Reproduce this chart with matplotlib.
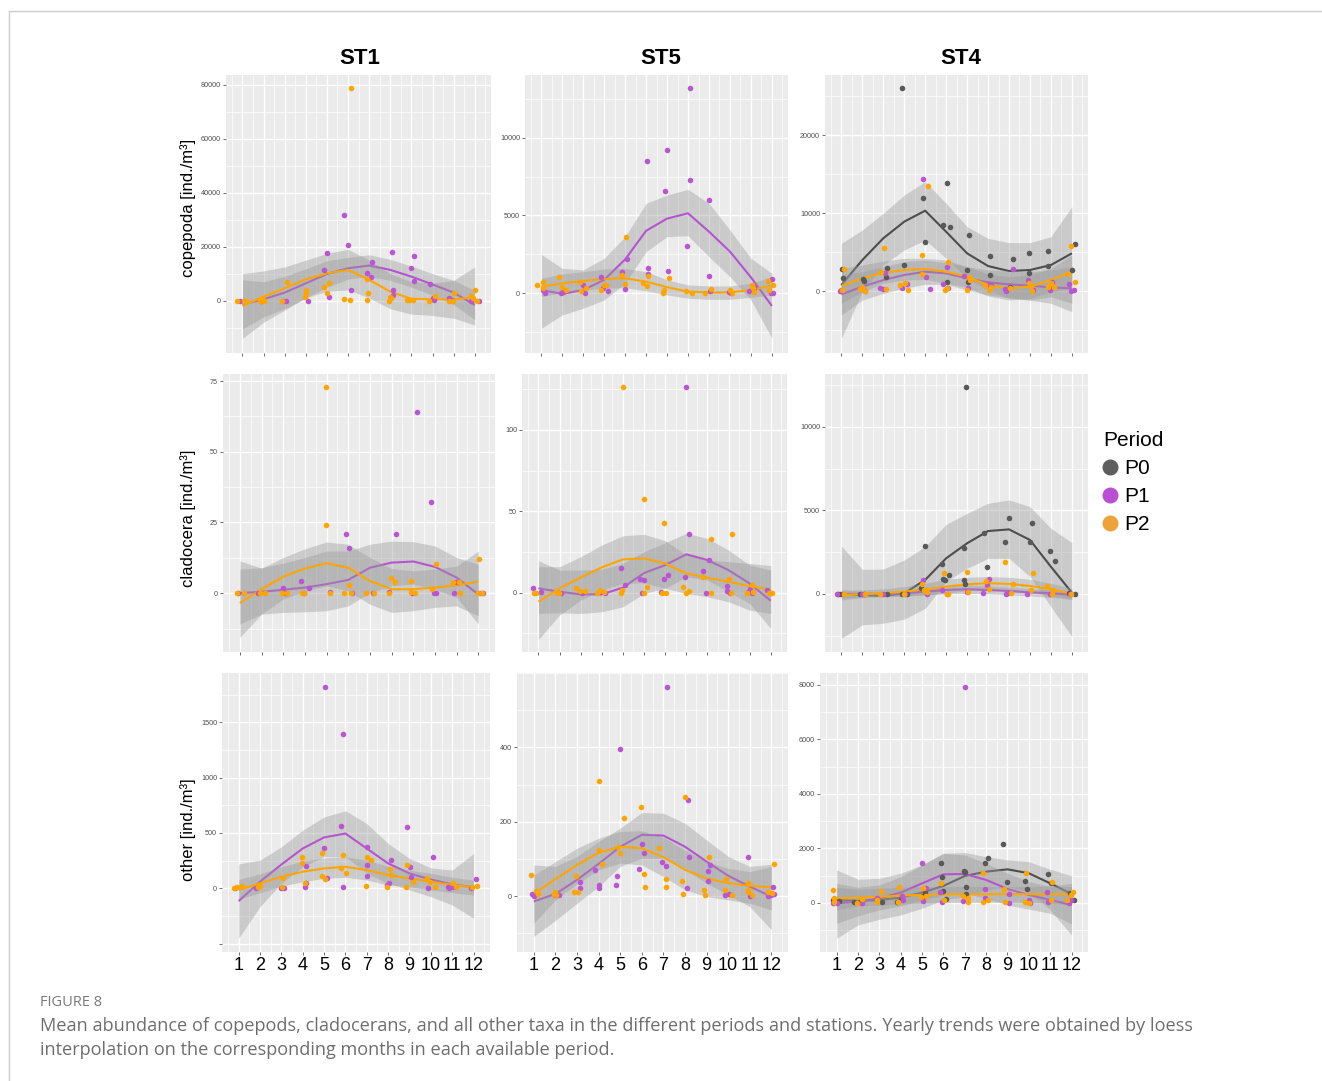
import numpy as np
import matplotlib.pyplot as plt
from matplotlib.lines import Line2D
from matplotlib.ticker import AutoMinorLocator

plt.rcParams['font.family'] = ['Liberation Sans', 'DejaVu Sans']

W, H = 1322, 1081

months = list(range(1, 13))
month_labels = [str(m) for m in months]
stations = ["ST1", "ST5", "ST4"]
taxa = ["copepoda", "cladocera", "other"]
periods = ["P0", "P1", "P2"]
period_colors = {"P0": "#595959", "P1": "#BA55D3", "P2": "#FFA500"}
line_colors = {"P0": "#4D4D4D", "P1": "#B455CF", "P2": "#FFA500"}
legend_colors = ["#5E5E5E", "#BB4FD3", "#EEA33A"]
caption_title = "FIGURE 8"
caption_lines = [
    "Mean abundance of copepods, cladocerans, and all other taxa in the different periods and stations. "
    "Yearly trends were obtained by loess",
    "interpolation on the corresponding months in each available period.",
]

# ---------------- ST1 copepoda ----------------
st1_cop_p1_x = [0.87, 1.9, 2.94, 3.07, 4.08, 4.85, 5.0, 5.12, 5.83, 5.99, 6.15, 6.88, 7.07, 7.15, 8.06, 8.14,
                8.15, 8.98, 9.14, 9.14, 9.89, 10.01, 10.05, 10.78, 10.9, 11.84, 12.19]
st1_cop_p1_y = [0, 0, 0, 0, 0, 11400, 17500, 1500, 31700, 20600, 4000, 10100, 8600, 14200, 18200, 4000,
                2100, 12200, 16700, 7400, 6200, 900, 200, 900, 200, 0, 0]
st1_cop_p1_fit = [-1400, 500, 3000, 6400, 9900, 12000, 13000, 11400, 8900, 6000, 3000, -1600]
st1_cop_p1_lo = [-10500, -6000, -3000, 1000, 5000, 8000, 9000, 7500, 5000, 2000, -1500, -7000]
st1_cop_p1_hi = [7700, 7000, 9000, 11800, 14800, 16000, 17000, 15300, 12800, 10000, 7500, 3800]
st1_cop_p2_x = [0.76, 1.06, 1.16, 1.83, 1.99, 2.03, 2.86, 3.13, 3.97, 4.02, 4.02, 4.88, 5.0, 5.12, 5.8,
                6.09, 6.15, 6.88, 6.95, 6.91, 7.95, 8.0, 8.03, 8.8, 8.9, 9.06, 9.85, 10.1, 10.8, 11.0,
                10.96, 11.8, 11.9, 12.03, 12.13]
st1_cop_p2_y = [0, 0, 0, 0, 500, 0, 0, 6800, 1500, 3000, 4000, 5000, 3000, 6500, 700, 300, 78900, 8200,
                2700, 300, 0, 1500, 800, 300, 300, 300, 0, 1700, 0, 2700, 0, 1700, 800, 4000, 0]
st1_cop_p2_fit = [-2000, 1500, 4600, 7900, 10100, 11400, 7700, 3300, 700, 500, 500, 1200]
st1_cop_p2_lo = [-14000, -8000, -3500, 1000, 3500, 4000, 1000, -3000, -5000, -5500, -6500, -9000]
st1_cop_p2_hi = [10000, 11000, 12500, 15000, 17500, 19000, 15000, 10000, 7000, 6500, 7500, 12500]

# ---------------- ST5 copepoda ----------------
st5_cop_p1_x = [1.08, 1.19, 1.92, 2.03, 2.98, 3.06, 3.86, 3.94, 4.17, 4.83, 4.97, 5.08, 6.05, 6.08, 6.1,
                6.89, 7.0, 7.05, 7.94, 8.11, 8.11, 9.02, 9.02, 9.05, 9.97, 10.05, 10.9, 11.13, 11.16,
                11.95, 12.0, 12.06]
st5_cop_p1_y = [210, 40, 40, 100, 535, 40, 1070, 320, 170, 1390, 260, 2200, 8520, 1650, 1240, 6570, 9180,
                1460, 3060, 13200, 7280, 5970, 1110, 170, 100, 40, 150, 320, 470, 40, 900, 40]
st5_cop_p1_fit = [210, -40, 210, 860, 2180, 4020, 4800, 5140, 3960, 2680, 1030, -810]
st5_cop_p1_lo = [-2250, -1390, -960, -430, 640, 2680, 3640, 3700, 2350, 1070, -430, -2890]
st5_cop_p1_hi = [2500, 1600, 1500, 2250, 3640, 5780, 6310, 6680, 5780, 4070, 2250, 1280]
st5_cop_p2_x = [0.8, 1.1, 1.08, 1.83, 2.0, 2.16, 2.83, 2.9, 3.14, 3.86, 3.98, 4.1, 4.86, 4.97, 5.05, 5.87,
                6.06, 6.1, 6.8, 6.84, 7.11, 7.9, 8.19, 8.83, 9.1, 10.0, 10.1, 11.05, 11.08, 11.13, 11.8,
                11.84, 12.06]
st5_cop_p2_y = [535, 750, 320, 1070, 430, 210, 750, 170, 320, 210, 535, 535, 1180, 580, 3640, 640, 470,
                1130, 40, 210, 1000, 170, 40, 40, 280, 210, 40, 535, 320, 100, 790, 210, 535]
st5_cop_p2_fit = [430, 640, 790, 920, 960, 750, 390, 110, 40, 60, 210, 490]
st5_cop_p2_lo = [-210, 40, 210, 320, 360, 150, -110, -320, -390, -390, -260, -110]
st5_cop_p2_hi = [960, 1240, 1390, 1560, 1600, 1390, 860, 535, 470, 470, 640, 1070]

# ---------------- ST4 copepoda ----------------
st4_cop_p0_x = [1.03, 1.08, 2.03, 2.06, 3.17, 3.14, 3.9, 3.97, 4.89, 5.0, 5.87, 6.03, 6.19, 6.03, 6.98,
                7.08, 7.03, 8.1, 8.1, 9.05, 9.17, 9.97, 9.97, 10.84, 10.87, 12.03, 12.17]
st4_cop_p0_y = [2830, 1710, 1500, 1280, 3000, 1760, 26100, 3340, 11900, 6300, 8480, 13830, 8270, 1160,
                2700, 7200, 1200, 4500, 2060, 560, 4070, 4930, 2270, 5140, 3210, 2700, 6040]
st4_cop_p0_fit = [770, 3980, 6770, 8910, 10320, 7620, 4840, 3210, 2570, 2700, 3340, 4840]
st4_cop_p0_lo = [-6080, -90, 3340, 5270, 6550, 4200, 1630, 130, -940, -1160, -730, -1580]
st4_cop_p0_hi = [6120, 7840, 9980, 12330, 14050, 11260, 8270, 6770, 6210, 6210, 6980, 10840]
st4_cop_p1_x = [0.95, 1.0, 1.98, 2.11, 2.86, 2.98, 3.06, 3.89, 4.13, 4.89, 5.05, 5.21, 5.84, 6.06, 6.11,
                6.83, 7.06, 8.02, 8.14, 8.81, 8.86, 9.17, 9.89, 10.16, 10.95, 11.03, 11.87, 11.98, 12.1]
st4_cop_p1_y = [40, 130, 340, 0, 430, 260, 2270, 340, 860, 14400, 1840, 260, 860, 3130, 340, 1930, 340,
                860, 770, 260, 0, 2830, 1410, 130, 130, 1110, 860, 0, 130]
st4_cop_p1_fit = [-430, 560, 1410, 2060, 2480, 2270, 1630, 1110, 860, 690, 470, 340]
st4_cop_p1_lo = [-3080, -1160, -300, 340, 860, 860, 130, -510, -860, -1160, -1580, -2660]
st4_cop_p1_hi = [2060, 2480, 3130, 3770, 3980, 3640, 3130, 2700, 2570, 2480, 2700, 3130]
st4_cop_p2_x = [1.03, 1.11, 1.9, 2.0, 2.14, 2.89, 3.05, 3.14, 3.81, 4.02, 4.17, 4.84, 4.84, 5.13, 5.95,
                6.03, 6.08, 6.98, 7.11, 7.14, 7.86, 8.06, 8.13, 9.05, 9.97, 10.03, 10.1, 10.84, 11.0,
                11.16, 11.83, 11.95, 12.14]
st4_cop_p2_y = [130, 2780, 210, 470, 40, 2400, 5480, 260, 730, 990, 130, 4630, 2180, 13530, 130, 340,
                3680, 130, 1840, 1410, 770, 130, 470, 340, 1070, 640, 0, 470, 990, 560, 2180, 5780, 1110]
st4_cop_p2_fit = [640, 1630, 2360, 2700, 2830, 2480, 1840, 770, 340, 560, 1410, 2480]
st4_cop_p2_lo = [-1580, -90, 990, 1410, 1500, 990, 470, -640, -1160, -940, -90, 340]
st4_cop_p2_hi = [2910, 3340, 3850, 4200, 4200, 3980, 3130, 2180, 1840, 2060, 2910, 4630]

# ---------------- ST1 cladocera ----------------
st1_cla_p1_x = [0.92, 1.85, 2.98, 3.09, 3.84, 4.18, 3.95, 5.16, 5.91, 6.05, 6.16, 7.12, 7.87, 8.18, 8.95,
                9.17, 9.84, 9.95, 10.04, 10.89, 10.97, 11.08, 12.08, 12.2]
st1_cla_p1_y = [0, 0, 2, 0, 4.3, 2, 0, 0.5, 21.1, 16.1, 0, 0, 0.5, 21.1, 0, 64.2, 32.3, 0, 0, 0, 3.8, 4,
                0, 0]
st1_cla_p1_fit = [0, 0.5, 1.2, 2.0, 3.2, 4.7, 9.0, 10.8, 11.2, 9.3, 5.5, -0.4]
st1_cla_p1_lo = [-10.9, -7.4, -6.8, -6.6, -6.2, -4.5, 0.2, 2.6, 3.2, 1.4, -1.5, -10.9]
st1_cla_p1_hi = [8.5, 9.0, 10.6, 12.6, 14.9, 14.9, 17.3, 18.4, 18.2, 16.7, 12.6, 10.2]
st1_cla_p2_x = [0.85, 1.2, 1.93, 2.16, 2.94, 3.19, 3.87, 3.95, 4.95, 4.95, 5.14, 5.8, 6.04, 6.12, 6.84,
                7.17, 7.87, 7.98, 8.16, 8.88, 8.9, 9.1, 9.87, 10.07, 10.85, 11.12, 11.15, 12.05, 12.0, 12.16]
st1_cla_p2_y = [0, 0, 0, 0, 0, 0, 0, 0, 72.8, 24, 0, 0, 2.8, 0, 0.2, 0.2, 0, 5.2, 3.8, 4.2, 0.5, 0.2, 1.4,
                10.2, 3.8, 3.8, 0.2, 12.2, 0, 0]
st1_cla_p2_fit = [-3.5, 1.4, 5.9, 8.7, 10.6, 9.0, 4.3, 1.4, 1.4, 2.0, 2.8, 4.1]
st1_cla_p2_lo = [-15.6, -7.4, -2.1, 0.8, 2.6, 0.8, -3.9, -6.8, -6.2, -5.0, -4.5, -8.0]
st1_cla_p2_hi = [11.4, 8.8, 12.6, 15.7, 18.1, 17.3, 12.6, 8.7, 7.9, 8.5, 9.6, 14.9]

# ---------------- ST5 cladocera ----------------
st5_cla_p1_x = [0.76, 1.11, 2.06, 3.05, 4.15, 4.9, 5.12, 5.81, 5.9, 5.98, 6.79, 6.95, 7.12, 7.96, 7.99,
                8.15, 8.78, 8.93, 9.09, 9.91, 9.94, 10.07, 10.94, 11.02, 11.1, 11.8, 11.96]
st5_cla_p1_y = [2.9, 0.6, 0, 0, 0, 15, 4.7, 8.4, 0, 7.8, 0.6, 8.2, 11.1, 9.8, 126.2, 35.9, 13.1, 0, 20.1,
                1.2, 4.1, 0, 0.6, 2, 0, 1.6, 0]
st5_cla_p1_fit = [2.7, 0.6, -1, -1, 3.2, 12.1, 17.0, 23.6, 20.1, 13.9, 5.7, -4.9]
st5_cla_p1_lo = [-12.7, -12.3, -12.7, -11.7, -8.6, -0.4, 2.7, 9.8, 7.8, 0.6, -6.6, -21.9]
st5_cla_p1_hi = [19.7, 13.9, 13.9, 14.5, 18, 25.2, 30.7, 36.5, 33.4, 26.2, 17, 13.9]
st5_cla_p2_x = [0.8, 0.9, 1.87, 1.95, 2.78, 2.97, 3.18, 3.79, 3.92, 4.1, 4.9, 4.96, 4.99, 6.0, 6.02, 6.13,
                6.85, 6.96, 7.04, 7.83, 7.99, 8.15, 8.8, 9.15, 9.15, 10.04, 10.1, 10.15, 10.89, 11.1, 11.17,
                11.93, 12.04]
st5_cla_p2_y = [0, 0, 0, 0, 2.7, 1, 1, 0, 1.6, 0.6, 0, 1.6, 126.2, 57.4, 0, 3.7, 0, 43, 0, 3.7, 0, 1, 9.8,
                33, 0, 8.2, 0, 35.9, 0, 4.7, 0.6, 0, 0]
st5_cla_p2_fit = [-5.5, 2.7, 9.4, 15.6, 20.5, 21.1, 18.0, 11.9, 9.2, 6.8, 4.1, 2.0]
st5_cla_p2_lo = [-28.7, -13.7, -4.5, 1.6, 5.7, 6.1, 2.7, -0.4, -2.5, -5.5, -10.7, -12.7]
st5_cla_p2_hi = [16, 16, 22.1, 29.3, 35, 35.9, 32, 23.2, 20.1, 19.1, 18, 16.7]

# ---------------- ST4 cladocera ----------------
st4_cla_p0_x = [0.83, 0.92, 1.9, 2.1, 3.17, 3.89, 4.13, 4.81, 4.97, 5.79, 5.84, 5.95, 6.14, 6.87, 6.9,
                6.95, 6.87, 7.83, 7.97, 8.81, 9.0, 10.0, 10.08, 10.95, 11.19, 11.87, 12.17]
st4_cla_p0_y = [0, 0, 0, 0, 0, 0, 0, 340, 2870, 1790, 880, 840, 1140, 840, 600, 12350, 2770, 3670, 1630,
                3090, 4560, 3090, 4260, 2590, 1970, 80, 0]
st4_cla_p0_fit = [0, -60, -120, 40, 840, 2130, 3030, 3760, 3860, 3230, 1630, 80]
st4_cla_p0_lo = [-2650, -1850, -1750, -1510, -860, 740, 1530, 2130, 2130, 1040, -760, -2550]
st4_cla_p0_hi = [2870, 1470, 1490, 2030, 2830, 4160, 4820, 5420, 5620, 5220, 3920, 3070]
st4_cla_p1_x = [0.79, 1.98, 2.98, 4.05, 4.89, 5.08, 5.79, 6.03, 6.98, 7.78, 7.94, 8.05, 8.86, 8.97, 9.84,
                10.95, 11.9]
st4_cla_p1_y = [0, 0, 0, 0, 840, 0, 240, 0, 140, 80, 540, 880, 0, 80, 0, 0, 0]
st4_cla_p1_fit = [-20, 0, 0, 40, 140, 240, 280, 240, 180, 100, 40, -40]
st4_cla_p1_lo = [-240, -160, -160, -120, -60, 0, 40, 0, -60, -120, -200, -280]
st4_cla_p1_hi = [200, 140, 140, 200, 340, 480, 540, 480, 400, 300, 240, 180]
st4_cla_p2_x = [1.11, 2.14, 2.86, 3.97, 4.86, 4.95, 5.08, 5.9, 6.03, 6.11, 6.98, 7.06, 7.89, 8.05, 8.81,
                9.08, 9.17, 10.03, 10.13, 10.79, 11.03, 11.11, 11.98]
st4_cla_p2_y = [0, 0, 0, 0, 600, 240, 140, 1240, 0, 0, 1330, 140, 800, 280, 1930, 80, 580, 240, 1240, 480,
                0, 240, 0]
st4_cla_p2_fit = [-80, 0, 40, 140, 280, 440, 580, 640, 600, 480, 280, 0]
st4_cla_p2_lo = [-360, -220, -160, -120, -60, 40, 200, 240, 200, 80, -100, -360]
st4_cla_p2_hi = [240, 240, 300, 440, 640, 880, 1000, 1040, 1000, 880, 640, 340]

# ---------------- ST1 other ----------------
st1_oth_p1_x = [0.84, 1.83, 2.96, 3.11, 4.1, 4.16, 4.16, 4.99, 5.04, 5.12, 5.8, 5.88, 5.88, 6.99, 7.02,
                7.02, 8.04, 7.96, 8.12, 8.87, 9.01, 9.06, 9.87, 10.08, 10.78, 10.86, 11.02, 11.88, 12.11]
st1_oth_p1_y = [0, 0, 0, 0, 10, 45, 205, 365, 1820, 90, 565, 1390, 10, 210, 375, 115, 45, 30, 255, 550,
                195, 105, 5, 280, 15, 0, 10, 0, 80]
st1_oth_p1_fit = [-115, 60, 215, 360, 460, 495, 360, 225, 135, 80, 35, 10]
st1_oth_p1_lo = [-450, -165, 45, 195, 285, 285, 135, 45, -15, -75, -150, -270]
st1_oth_p1_hi = [220, 255, 375, 525, 645, 700, 585, 405, 270, 185, 165, 315]
st1_oth_p2_x = [0.8, 0.92, 1.16, 1.9, 1.99, 3.03, 3.08, 3.97, 3.97, 4.1, 4.88, 4.91, 5.04, 5.8, 5.9, 6.04,
                6.96, 7.02, 7.18, 7.93, 8.09, 8.15, 8.82, 8.87, 9.18, 9.81, 9.97, 10.2, 11.02, 11.17,
                11.92, 12.16]
st1_oth_p2_y = [0, 10, 25, 10, 25, 10, 90, 280, 225, 45, 315, 115, 80, 185, 300, 135, 25, 285, 255, 10,
                175, 120, 10, 215, 60, 95, 55, 15, 45, 10, 15, 20]
st1_oth_p2_fit = [-15, 45, 105, 150, 180, 195, 165, 120, 90, 60, 30, 10]
st1_oth_p2_lo = [-100, -40, 20, 60, 90, 100, 75, 30, 15, -15, -40, -60]
st1_oth_p2_hi = [80, 130, 195, 245, 275, 285, 255, 200, 165, 135, 100, 75]

# ---------------- ST5 other ----------------
st5_oth_p1_x = [0.92, 1.0, 1.97, 2.15, 3.12, 3.15, 3.84, 4.04, 4.04, 4.8, 4.86, 4.99, 5.86, 6.03, 6.09,
                6.92, 7.1, 7.18, 8.09, 8.15, 8.18, 9.05, 9.05, 9.16, 9.87, 10.05, 10.9, 11.02, 11.83,
                11.97, 12.07, 12.12]
st5_oth_p1_y = [6, 1, 2, 2, 21, 37, 71, 21, 30, 30, 55, 395, 73, 141, 115, 93, 80, 563, 21, 259, 106, 42,
                69, 84, 3, 5, 105, 1, 1, 2, 24, 6]
st5_oth_p1_fit = [-14, 6, 44, 87, 133, 165, 163, 133, 93, 55, 26, -1]
st5_oth_p1_lo = [-108, -65, -19, 26, 80, 102, 102, 71, 35, 4, -28, -90]
st5_oth_p1_hi = [84, 80, 107, 147, 183, 225, 223, 196, 151, 107, 80, 86]
st5_oth_p2_x = [0.85, 1.11, 1.18, 1.92, 2.0, 2.04, 2.84, 2.96, 3.04, 4.04, 4.04, 4.15, 4.91, 4.97, 5.17,
                5.98, 6.11, 6.14, 6.8, 7.1, 7.13, 7.87, 7.9, 7.99, 8.9, 8.93, 9.13, 9.85, 9.9, 10.16, 10.9,
                10.9, 10.94, 11.12, 11.86, 12.04, 12.12]
st5_oth_p2_y = [57, 15, 5, 6, 10, 4, 12, 55, 10, 310, 123, 87, 132, 115, 210, 239, 61, 26, 129, 46, 24,
                42, 5, 267, 17, 4, 105, 17, 46, 2, 35, 17, 10, 4, 12, 8, 87]
st5_oth_p2_fit = [6, 46, 84, 117, 133, 129, 105, 71, 48, 35, 28, 24]
st5_oth_p2_lo = [-72, -10, 33, 71, 89, 84, 53, 17, -1, -10, -19, -37]
st5_oth_p2_hi = [57, 93, 129, 156, 174, 176, 158, 124, 93, 75, 66, 80]

# ---------------- ST4 other ----------------
st4_oth_p0_x = [0.81, 1.12, 1.82, 2.09, 2.9, 3.1, 3.83, 4.0, 5.04, 5.15, 5.9, 5.93, 5.98, 6.13, 6.96, 7.03,
                7.06, 7.06, 7.95, 8.08, 8.79, 8.96, 9.82, 9.91, 10.92, 11.02, 11.93, 12.12]
st4_oth_p0_y = [110, 85, 50, 25, 110, 25, 50, 135, 255, 415, 1455, 965, 450, 135, 1175, 1125, 600, 330,
                1455, 1640, 2150, 770, 820, 515, 1065, 720, 355, 110]
st4_oth_p0_fit = [110, 75, 110, 195, 380, 625, 990, 1150, 1235, 1090, 720, 330]
st4_oth_p0_lo = [-1295, -805, -600, -440, -195, 110, 230, 475, 600, 415, -255, -1175]
st4_oth_p0_hi = [1210, 870, 905, 1090, 1395, 1820, 1850, 1700, 1580, 1515, 1235, 1000]
st4_oth_p1_x = [0.84, 1.0, 2.17, 2.9, 4.11, 4.06, 4.98, 5.06, 5.17, 5.85, 5.91, 6.99, 6.93, 7.97, 7.97,
                9.09, 9.09, 10.02, 10.05, 10.84, 10.92, 11.89, 11.98]
st4_oth_p1_y = [0, 0, 0, 195, 110, 270, 1455, 85, 565, 415, 25, 7940, 85, 500, 170, 330, 0, 110, 0, 390,
                50, 0, 110]
st4_oth_p1_fit = [-10, 50, 170, 380, 720, 1050, 1065, 845, 515, 295, 110, -75]
st4_oth_p1_lo = [-745, -475, -255, -110, 110, 295, 355, 170, -75, -230, -380, -770]
st4_oth_p1_hi = [720, 575, 660, 965, 1395, 1820, 1760, 1455, 1090, 785, 600, 600]
st4_oth_p2_x = [0.84, 0.87, 0.89, 1.93, 2.17, 2.87, 2.9, 3.07, 3.85, 3.91, 4.93, 5.04, 5.2, 5.9, 6.02,
                6.91, 7.14, 7.17, 7.84, 7.87, 8.09, 8.82, 8.9, 9.82, 9.87, 10.02, 11.03, 11.09, 11.81,
                11.96, 12.09]
st4_oth_p2_y = [475, 195, 25, 0, 135, 110, 50, 440, 25, 575, 230, 565, 255, 720, 110, 270, 25, 170, 1090,
                50, 110, 515, 25, 25, 1115, 0, 110, 785, 110, 295, 415]
st4_oth_p2_fit = [160, 195, 230, 270, 295, 320, 320, 320, 320, 320, 320, 320]
st4_oth_p2_lo = [-255, -110, -75, -35, -10, 10, 25, 25, 25, 25, -10, -75]
st4_oth_p2_hi = [575, 500, 540, 575, 600, 600, 600, 600, 600, 600, 625, 720]

# ---------------- y axes ----------------
st1_cop_ticks = [0, 20000, 40000, 60000, 80000]
st5_cop_ticks = [0, 5000, 10000]
st4_cop_ticks = [0, 10000, 20000]
st1_cla_ticks = [0, 25, 50, 75]
st5_cla_ticks = [0, 50, 100]
st4_cla_ticks = [0, 5000, 10000]
st1_oth_ticks = [-500, 0, 500, 1000, 1500]
st1_oth_ticklabels = ["", "0", "500", "1000", "1500"]
st5_oth_ticks = [0, 200, 400]
st4_oth_ticks = [0, 2000, 4000, 6000, 8000]

panels = [
    [
        dict(box=(226, 75, 491, 353), ylim=(-19400, 83600), ticks=st1_cop_ticks, labels=None,
             groups=[("P1", st1_cop_p1_x, st1_cop_p1_y, st1_cop_p1_fit, st1_cop_p1_lo, st1_cop_p1_hi),
                     ("P2", st1_cop_p2_x, st1_cop_p2_y, st1_cop_p2_fit, st1_cop_p2_lo, st1_cop_p2_hi)]),
        dict(box=(525, 75, 788, 353), ylim=(-3840, 14030), ticks=st5_cop_ticks, labels=None,
             groups=[("P1", st5_cop_p1_x, st5_cop_p1_y, st5_cop_p1_fit, st5_cop_p1_lo, st5_cop_p1_hi),
                     ("P2", st5_cop_p2_x, st5_cop_p2_y, st5_cop_p2_fit, st5_cop_p2_lo, st5_cop_p2_hi)]),
        dict(box=(825, 75, 1088, 353), ylim=(-7960, 27750), ticks=st4_cop_ticks, labels=None,
             groups=[("P0", st4_cop_p0_x, st4_cop_p0_y, st4_cop_p0_fit, st4_cop_p0_lo, st4_cop_p0_hi),
                     ("P1", st4_cop_p1_x, st4_cop_p1_y, st4_cop_p1_fit, st4_cop_p1_lo, st4_cop_p1_hi),
                     ("P2", st4_cop_p2_x, st4_cop_p2_y, st4_cop_p2_fit, st4_cop_p2_lo, st4_cop_p2_hi)]),
    ],
    [
        dict(box=(223, 374, 495, 652), ylim=(-20.8, 77.5), ticks=st1_cla_ticks, labels=None,
             groups=[("P1", st1_cla_p1_x, st1_cla_p1_y, st1_cla_p1_fit, st1_cla_p1_lo, st1_cla_p1_hi),
                     ("P2", st1_cla_p2_x, st1_cla_p2_y, st1_cla_p2_fit, st1_cla_p2_lo, st1_cla_p2_hi)]),
        dict(box=(522, 374, 787, 652), ylim=(-36.4, 134.4), ticks=st5_cla_ticks, labels=None,
             groups=[("P1", st5_cla_p1_x, st5_cla_p1_y, st5_cla_p1_fit, st5_cla_p1_lo, st5_cla_p1_hi),
                     ("P2", st5_cla_p2_x, st5_cla_p2_y, st5_cla_p2_fit, st5_cla_p2_lo, st5_cla_p2_hi)]),
        dict(box=(825, 374, 1088, 652), ylim=(-3470, 13150), ticks=st4_cla_ticks, labels=None,
             groups=[("P0", st4_cla_p0_x, st4_cla_p0_y, st4_cla_p0_fit, st4_cla_p0_lo, st4_cla_p0_hi),
                     ("P1", st4_cla_p1_x, st4_cla_p1_y, st4_cla_p1_fit, st4_cla_p1_lo, st4_cla_p1_hi),
                     ("P2", st4_cla_p2_x, st4_cla_p2_y, st4_cla_p2_fit, st4_cla_p2_lo, st4_cla_p2_hi)]),
    ],
    [
        dict(box=(222, 673, 490, 952), ylim=(-575, 1945), ticks=st1_oth_ticks, labels=st1_oth_ticklabels,
             groups=[("P1", st1_oth_p1_x, st1_oth_p1_y, st1_oth_p1_fit, st1_oth_p1_lo, st1_oth_p1_hi),
                     ("P2", st1_oth_p2_x, st1_oth_p2_y, st1_oth_p2_fit, st1_oth_p2_lo, st1_oth_p2_hi)]),
        dict(box=(517, 673, 788, 952), ylim=(-150, 600), ticks=st5_oth_ticks, labels=None,
             groups=[("P1", st5_oth_p1_x, st5_oth_p1_y, st5_oth_p1_fit, st5_oth_p1_lo, st5_oth_p1_hi),
                     ("P2", st5_oth_p2_x, st5_oth_p2_y, st5_oth_p2_fit, st5_oth_p2_lo, st5_oth_p2_hi)]),
        dict(box=(820, 673, 1088, 952), ylim=(-1800, 8440), ticks=st4_oth_ticks, labels=None,
             groups=[("P0", st4_oth_p0_x, st4_oth_p0_y, st4_oth_p0_fit, st4_oth_p0_lo, st4_oth_p0_hi),
                     ("P1", st4_oth_p1_x, st4_oth_p1_y, st4_oth_p1_fit, st4_oth_p1_lo, st4_oth_p1_hi),
                     ("P2", st4_oth_p2_x, st4_oth_p2_y, st4_oth_p2_fit, st4_oth_p2_lo, st4_oth_p2_hi)]),
    ],
]

fig = plt.figure(figsize=(W / 100, H / 100), dpi=100)

for r, row in enumerate(panels):
    for c, p in enumerate(row):
        x0, y0, x1, y1 = p["box"]
        ax = fig.add_axes([x0 / W, 1 - y1 / H, (x1 - x0) / W, (y1 - y0) / H])
        ax.set_facecolor("#EBEBEB")
        for s in ax.spines.values():
            s.set_visible(False)
        ax.set_axisbelow(True)

        # smooth ribbons + lines first, points on top
        z = 2
        for period, xs, ys, fit, lo, hi in p["groups"]:
            ax.fill_between(months, lo, hi, color="#999999", alpha=0.4, lw=0, zorder=z)
            ax.plot(months, fit, color=line_colors[period], lw=1.5, zorder=z + 0.5,
                    solid_capstyle="butt")
            z += 1
        for period, xs, ys, fit, lo, hi in p["groups"]:
            ax.scatter(xs, ys, s=16, color=period_colors[period], linewidths=0, zorder=10)

        ax.set_xlim(0.22, 12.77)
        ax.set_ylim(*p["ylim"])
        ax.set_xticks(months)
        ax.xaxis.set_minor_locator(AutoMinorLocator(2))
        ax.set_yticks(p["ticks"])
        ax.yaxis.set_minor_locator(AutoMinorLocator(2))
        labels = p["labels"] if p["labels"] is not None else [str(t) for t in p["ticks"]]
        ax.set_yticklabels(labels)
        ax.grid(which="major", color="white", lw=1.0)
        ax.grid(which="minor", color="white", lw=0.5)
        ax.tick_params(which="minor", length=0)
        ax.tick_params(axis="y", which="major", length=2.5, width=0.5, color="#333333",
                       labelsize=5.2, labelcolor="#4D4D4D", pad=1)
        if r == 2:
            ax.set_xticklabels(month_labels)
            ax.tick_params(axis="x", which="major", length=2.5, width=0.5, color="#333333",
                           labelsize=13, labelcolor="black", pad=1)
        else:
            ax.tick_params(axis="x", which="major", length=2.5, width=0.5, color="#333333",
                           labelbottom=False)

# station titles and taxon labels
for name, xc in zip(stations, [360, 661, 961]):
    fig.text(xc / W, 1 - 58 / H, name, fontsize=16, weight="bold", ha="center", va="center")
for taxon, yc in zip(taxa, [208, 518, 830]):
    fig.text(188 / W, 1 - yc / H, taxon + " [ind./m³]", fontsize=12, rotation=90,
             ha="center", va="center")

# legend
handles = [Line2D([], [], ls="none", marker="o", ms=10.5, color=col) for col in legend_colors]
fig.legend(handles, periods, title="Period", loc="upper left",
           bbox_to_anchor=(1103 / W, 1 - 431 / H), frameon=False, fontsize=15, title_fontsize=15,
           handlelength=0.7, handletextpad=0.32, labelspacing=0.43, alignment="left",
           borderpad=0, borderaxespad=0)

# page frame and caption
fig.add_artist(Line2D([9 / W, 1], [1 - 11 / H, 1 - 11 / H], color="#CCCCCC", lw=1,
                      transform=fig.transFigure))
fig.add_artist(Line2D([9 / W, 9 / W], [0, 1 - 11 / H], color="#CCCCCC", lw=1,
                      transform=fig.transFigure))
fig.text(40 / W, 1 - 1003 / H, caption_title, fontsize=10.5, color="#7A7A7A",
         family=["Open Sans", "DejaVu Sans"], va="center")
for line, yc in zip(caption_lines, [1026, 1050]):
    fig.text(40 / W, 1 - yc / H, line, fontsize=13.1, color="#6E6E6E",
             family=["Open Sans", "DejaVu Sans"], va="center")

fig.savefig("out.png", dpi=100)
